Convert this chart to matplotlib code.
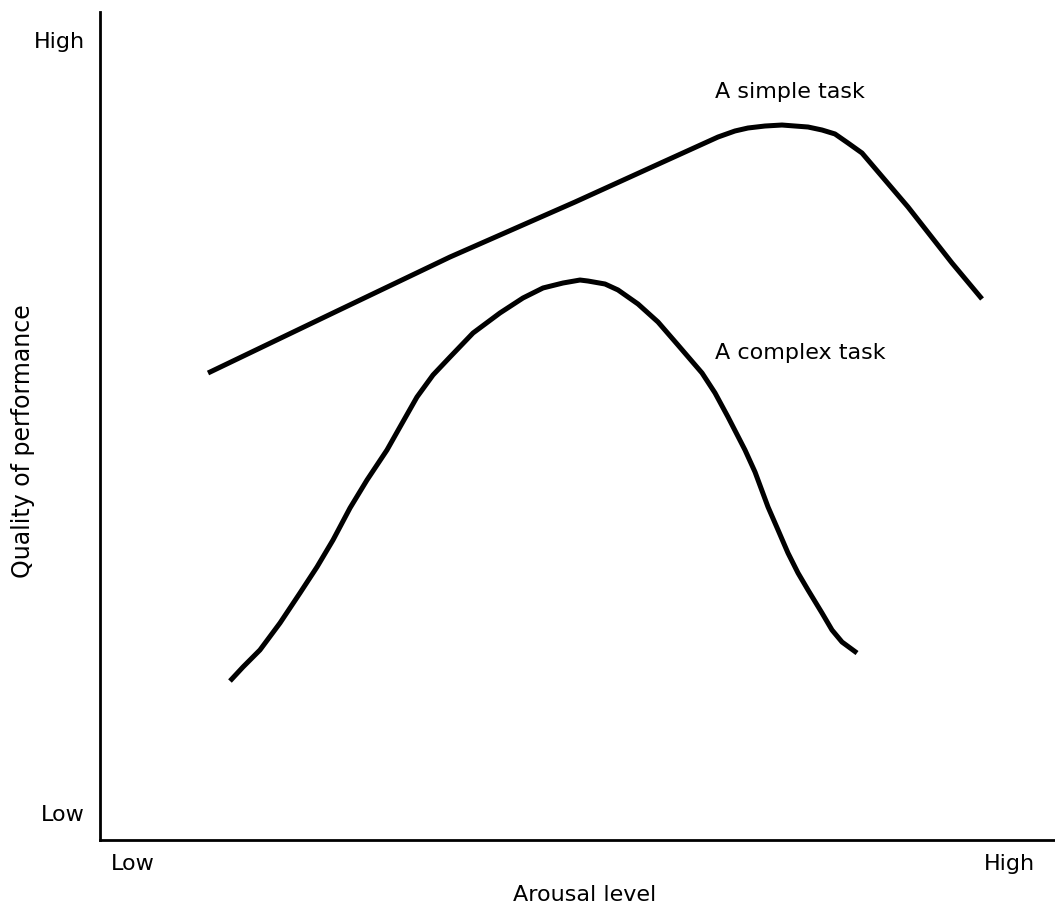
import matplotlib
matplotlib.use("Agg")
import matplotlib.pyplot as plt

plt.rcParams['font.family'] = ['DejaVu Sans']

# Data (arousal level 0-100, quality of performance 0-100)
simple_x = [11.31, 24.40, 36.65, 49.74, 57.80, 64.71, 66.49, 67.85, 69.63, 71.41, 72.77,
            74.14, 75.60, 76.96, 78.32, 79.79, 84.61, 89.21, 92.36]
simple_y = [56.40, 63.65, 70.41, 77.05, 81.28, 84.90, 85.63, 85.99, 86.23, 86.35, 86.23,
            86.11, 85.75, 85.27, 84.18, 82.97, 76.45, 69.69, 65.34]

complex_x = [13.61, 14.97, 16.75, 18.85, 20.94, 22.72, 24.40, 26.18, 27.96, 30.05, 31.41,
             33.19, 34.87, 36.65, 39.06, 41.88, 44.29, 46.39, 48.48, 50.26, 51.10, 52.88,
             54.24, 56.34, 58.43, 60.52, 63.04, 64.40, 65.76, 67.54, 68.59, 69.95, 71.00,
             72.04, 73.09, 74.14, 75.60, 76.65, 77.70, 79.27]
complex_y = [19.20, 20.89, 22.95, 26.21, 29.83, 32.97, 36.23, 40.10, 43.48, 47.10, 49.88,
             53.50, 56.16, 58.33, 61.23, 63.65, 65.46, 66.67, 67.27, 67.63, 67.51, 67.15,
             66.43, 64.73, 62.56, 59.78, 56.40, 53.99, 51.09, 47.10, 44.44, 40.22, 37.44,
             34.66, 32.25, 30.19, 27.42, 25.36, 23.91, 22.58]

x_ticks = [3.4, 95.2]
x_tick_labels = ["Low", "High"]
y_ticks = [3.3, 96.6]
y_tick_labels = ["Low", "High"]

W, H = 1055, 907
FS = 16
fig = plt.figure(figsize=(W / 100, H / 100), dpi=100)
ax = fig.add_axes([100 / W, (H - 840) / H, 955 / W, 828 / H])
ax.set_xlim(0, 100)
ax.set_ylim(0, 100)

for xs, ys in [(simple_x, simple_y), (complex_x, complex_y)]:
    ax.plot(xs, ys, color="black", lw=3.6, solid_capstyle="butt", solid_joinstyle="round")

ax.text((715 - 100) / 955 * 100, (840 - 92) / 828 * 100, "A simple task",
        fontsize=FS, ha="left", va="center")
ax.text((715 - 100) / 955 * 100, (840 - 353) / 828 * 100, "A complex task",
        fontsize=FS, ha="left", va="center")

for side in ["top", "right"]:
    ax.spines[side].set_visible(False)
for side in ["left", "bottom"]:
    ax.spines[side].set_linewidth(2.0)
    ax.spines[side].set_color("black")

ax.set_xticks(x_ticks, x_tick_labels, fontsize=FS)
ax.set_yticks(y_ticks, y_tick_labels, fontsize=FS)
ax.tick_params(axis="x", length=0, pad=10)
ax.tick_params(axis="y", length=0, pad=11)

fig.text(585 / W, 1 - 895 / H, "Arousal level", fontsize=FS, ha="center", va="center")
fig.text(23 / W, 1 - 441 / H, "Quality of performance", fontsize=FS + 1, ha="center",
         va="center", rotation=90)

fig.savefig("out.png", dpi=100, facecolor="white")
